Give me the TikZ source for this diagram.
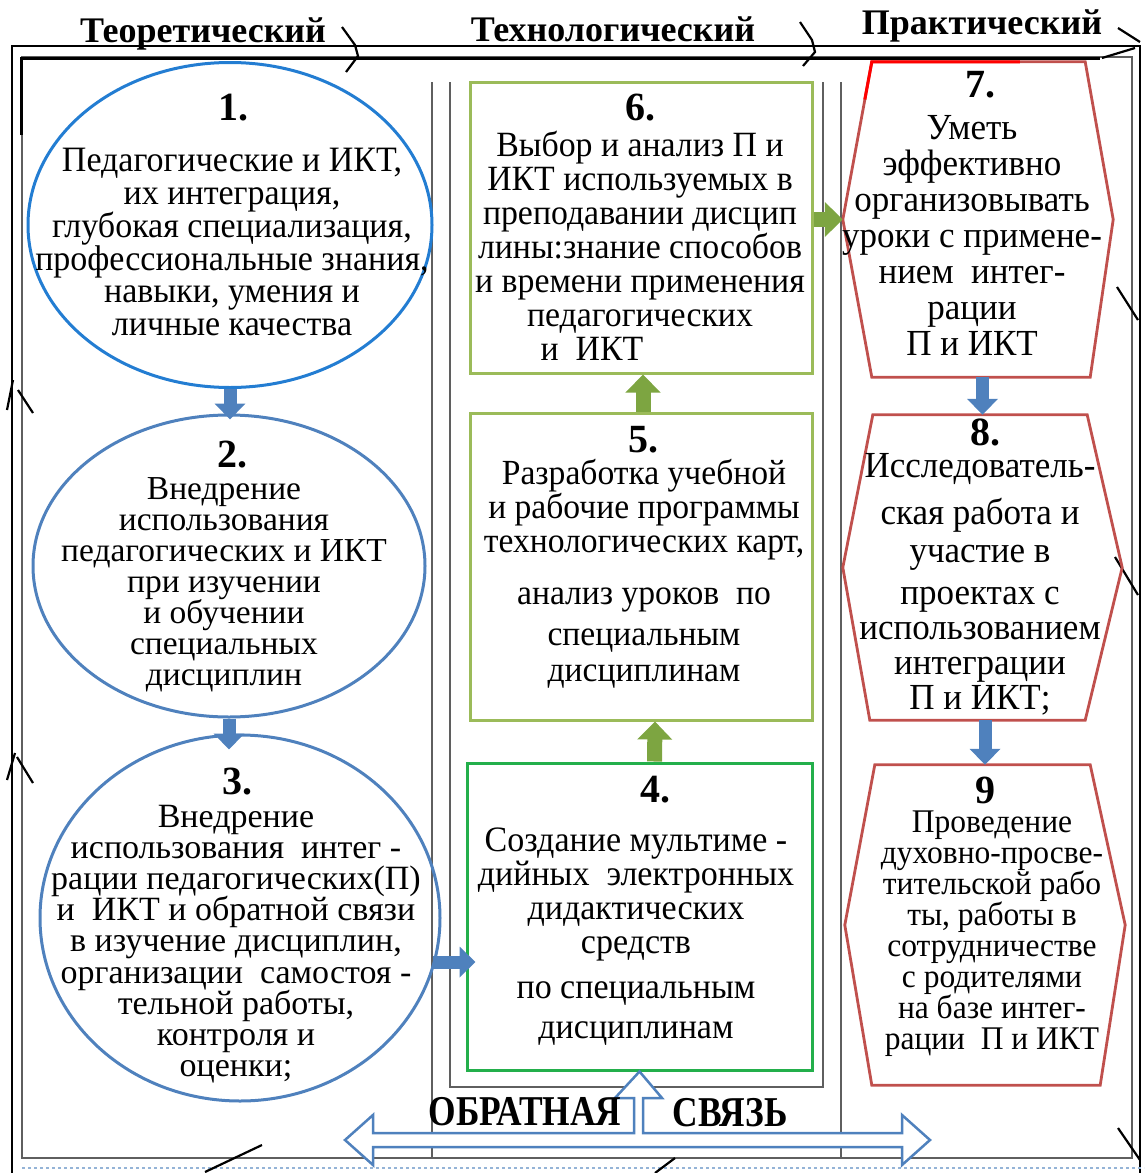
\documentclass[tikz,border=0pt]{standalone}
\usepackage{fontspec}
\setmainfont{Liberation Serif}
\usetikzlibrary{arrows.meta,calc,shapes.geometric}
\definecolor{eblue}{RGB}{35,125,210}
\definecolor{sblue}{RGB}{79,129,189}
\definecolor{olive}{RGB}{155,187,89}
\definecolor{darkolive}{RGB}{125,165,65}
\definecolor{bgreen}{RGB}{35,175,75}
\definecolor{hred}{RGB}{192,80,77}
\definecolor{frgray}{RGB}{95,95,95}
\newcommand\tightlines{\lineskiplimit=-100pt\lineskip=0pt\relax}
\newcommand\ytext[4]{\begin{scope}[shift={#1},yscale=#2]\node[transform shape,#3]{#4};\end{scope}}
\begin{document}
\begin{tikzpicture}[x=1pt,y=-1pt,
  ell/.style={ellipse, draw, line width=3pt, inner sep=0pt},
  gbox/.style={rectangle, draw=olive, line width=3pt, inner sep=0pt},
  hexref/.style={rectangle, inner sep=0pt},
  hexline/.style={draw=hred, line width=2.8pt, line join=miter},
  frame/.style={draw=frgray, line width=2.6pt},
  cyc/.style={draw=black, line width=2.2pt},
  txt/.style={align=center, inner sep=0pt},
  num/.style={font=\bfseries\fontsize{40}{40}\selectfont, inner sep=0pt},
  head/.style={font=\bfseries\fontsize{36}{36}\selectfont, inner sep=0pt},
  barrow/.style={line width=13pt, sblue, -{Triangle[width=30pt,length=16pt]}},
  garrow/.style={line width=15pt, darkolive, -{Triangle[width=34pt,length=18pt]}},
]
\useasboundingbox (0,0) rectangle (1144,1173);

% outer cycle frame
\draw[black, line width=2.4pt] (12,1173) -- (12,46) -- (1140,46) -- (1140,1173);
\draw[frame] (22,57) rectangle (1132,1158);
\draw[black, line width=3pt] (21,135) -- (21,58) -- (1100,58);
\draw[sblue!60, dashed, line width=1.2pt] (22,1168) -- (1144,1168);
% cycle marks
\draw[cyc] (342,27) -- (355,45) -- (358,56) -- (346,72);
\draw[cyc] (800,22) -- (812,40) -- (815,52) -- (803,66);
\draw[cyc] (1118,28) -- (1140,42);
\draw[cyc] (1102,58) -- (1135,48);
\draw[cyc] (7,410) -- (13,380);
\draw[cyc] (18,390) -- (33,413);
\draw[cyc] (7,780) -- (15,753);
\draw[cyc] (17,757) -- (33,783);
\draw[cyc] (1117,287) -- (1138,320);
\draw[cyc] (1115,557) -- (1138,595);
\draw[cyc] (1118,1128) -- (1140,1160);
\draw[cyc] (262,1145) -- (205,1172);
\draw[cyc] (675,1158) -- (655,1173);

% headers
\node[head] (hT) at (203,34) {Теоретический};
\node[head] (hTe) at (613,29) {Технологический};
\node[head] (hP) at (982,26) {Практический};

% middle column frame
\draw[frame] (432,82) -- (432,1158);
\draw[frame] (841,82) -- (841,1158);
\draw[frame] (450,82) -- (450,1087) -- (823,1087) -- (823,82);

% left column: ellipses
\node[ell, draw=eblue, minimum width=404, minimum height=325] (e1) at (230,225) {};
\node[ell, draw=sblue, minimum width=392, minimum height=302] (e2) at (229,566) {};
\node[ell, draw=sblue, minimum width=400, minimum height=366] (e3) at (240,918) {};

% middle column: boxes
\node[gbox, minimum width=342, minimum height=291] (b6) at (641,227.5) {};
\node[gbox, minimum width=342, minimum height=307] (b5) at (641,566.5) {};
\node[gbox, draw=bgreen, minimum width=345, minimum height=307] (b4) at (639.5,916.5) {};

% right column: hexagons
\node[hexref, minimum width=270, minimum height=315] (h7) at (978,219.5) {};
\node[hexref, minimum width=279, minimum height=305] (h8) at (982.5,567.5) {};
\node[hexref, minimum width=280, minimum height=320] (h9) at (985,925) {};
\draw[hexline] ($(h7.north west)+(29,0)$) -- ($(h7.north east)+(-28,0)$) -- (h7.east) -- ($(h7.south east)+(-23,0)$) -- ($(h7.south west)+(29,0)$) -- (h7.west) -- cycle;
\draw[hexline] ($(h8.north west)+(30,0)$) -- ($(h8.north east)+(-35,0)$) -- (h8.east) -- ($(h8.south east)+(-37,0)$) -- ($(h8.south west)+(27,0)$) -- (h8.west) -- cycle;
\draw[hexline] ($(h9.north west)+(30,0)$) -- ($(h9.north east)+(-35,0)$) -- (h9.east) -- ($(h9.south east)+(-25,0)$) -- ($(h9.south west)+(27,0)$) -- (h9.west) -- cycle;
\draw[red, line width=3pt] ($(h7.west)+(22,-120)$) -- ($(h7.north west)+(29,0)$) -- ($(h7.north west)+(177,0)$);

% numbers
\node[num] (n1) at (233,108) {1.};
\node[num] (n2) at (232,455) {2.};
\node[num] (n3) at (237,782) {3.};
\node[num] (n6) at (640,108) {6.};
\node[num] (n5) at (643,440) {5.};
\node[num] (n4) at (655,790) {4.};
\node[num] (n7) at (980,85) {7.};
\node[num] (n8) at (985,432) {8.};
\node[num] (n9) at (985,790) {9};

% texts
\ytext{(232,242)}{1.05}{txt,name=t1,font=\fontsize{34}{31.4}\selectfont\tightlines}{Педагогические и ИКТ,\\их интеграция,\\глубокая специализация,\\профессиональные знания,\\навыки, умения и\\личные качества}
\ytext{(224,585)}{1}{txt,name=t2,font=\fontsize{33.5}{31}\selectfont\tightlines}{Внедрение\\использования\\педагогических и ИКТ\\при изучении\\и обучении\\специальных\\дисциплин}
\ytext{(236,944)}{1}{txt,name=t3,font=\fontsize{34}{31.2}\selectfont\tightlines}{Внедрение\\использования~~интег -\\рации педагогических(П)\\и~~ИКТ и обратной связи\\в изучение дисциплин,\\организации~~самостоя -\\тельной работы,\\контроля и\\оценки;}
\ytext{(640,246)}{1.05}{txt,name=t6,font=\fontsize{33.8}{32.4}\selectfont\tightlines}{Выбор и анализ П и\\ИКТ используемых в\\преподавании дисцип\\лины:знание способов\\и времени применения\\педагогических\\и~~ИКТ\hspace*{96pt}}
\ytext{(644,573.5)}{1.05}{txt,name=t5,font=\fontsize{33.6}{32.4}\selectfont\tightlines}{Разработка учебной\\и рабочие программы\\технологических карт,\\[17.1pt]анализ уроков~~по\\[6.7pt]специальным\\[1.9pt]дисциплинам}
\ytext{(636,936.5)}{1.05}{txt,name=t4,font=\fontsize{34}{32.4}\selectfont\tightlines}{Создание мультиме -\\дийных~~электронных\\дидактических\\средств\\[10.5pt]по специальным\\[5.7pt]дисциплинам}
\ytext{(972,235.5)}{1.05}{txt,name=t7,font=\fontsize{35}{34.3}\selectfont\tightlines}{Уметь\\эффективно\\организовывать\\уроки с примене-\\нием~~интег-\\рации\\П и ИКТ}
\ytext{(980,584)}{1.05}{txt,name=t8,font=\fontsize{35}{33.3}\selectfont\tightlines}{Исследователь-\\[11.4pt]ская работа и\\[2.9pt]участие в\\[6.7pt]проектах с\\использованием\\интеграции\\П и ИКТ;}
\ytext{(992,933.5)}{1.05}{txt,name=t9,font=\fontsize{31.5}{29.5}\selectfont\tightlines}{Проведение\\духовно-просве-\\тительской рабо\\ты, работы в\\сотрудничестве\\с родителями\\на базе интег-\\рации~~П и ИКТ}

% connectors
\draw[barrow, shorten >=-6pt] (e1.south) -- (e1.south |- e2.north);
\draw[barrow, shorten >=-16pt] (e2.south) -- (e2.south |- e3.north);
\coordinate (a34) at (433,962);
\draw[barrow, shorten >=-10pt] (a34) -- (a34 -| b4.west);
\draw[garrow] ($(b4.north)+(15,0)$) -- ($(b5.south)+(14,0)$);
\draw[garrow] ($(b5.north)+(2,0)$) -- ($(b6.south)+(2,0)$);
\draw[garrow] (b6.east |- h7.west) -- (h7.west);
\draw[barrow] (h8.north |- h7.south) -- (h8.north);
\draw[barrow] (h9.north |- h8.south) -- (h9.north);

% feedback arrow
\coordinate (fbL) at (345,1140);
\coordinate (fbR) at (930,1140);
\draw[sblue, line width=2.5pt, fill=white, line join=miter]
  (fbL) -- ++(28,-25) -- ++(0,18) -- (634,1133) -- (634,1098) -- (615,1098) -- (b4.south)
  -- (662,1098) -- (643,1098) -- (643,1133) -- ($(fbR)+(-28,-7)$) -- ++(0,-18) -- (fbR)
  -- ++(-28,25) -- ++(0,-18) -- ($(fbL)+(28,7)$) -- ++(0,18) -- cycle;
\ytext{(525,1112)}{1.2}{name=fb1,inner sep=0pt,font=\bfseries\fontsize{35.4}{36}\selectfont}{ОБРАТНАЯ}
\ytext{(730,1113)}{1.2}{name=fb2,inner sep=0pt,font=\bfseries\fontsize{35.4}{36}\selectfont}{СВЯЗЬ}
\end{tikzpicture}
\end{document}
